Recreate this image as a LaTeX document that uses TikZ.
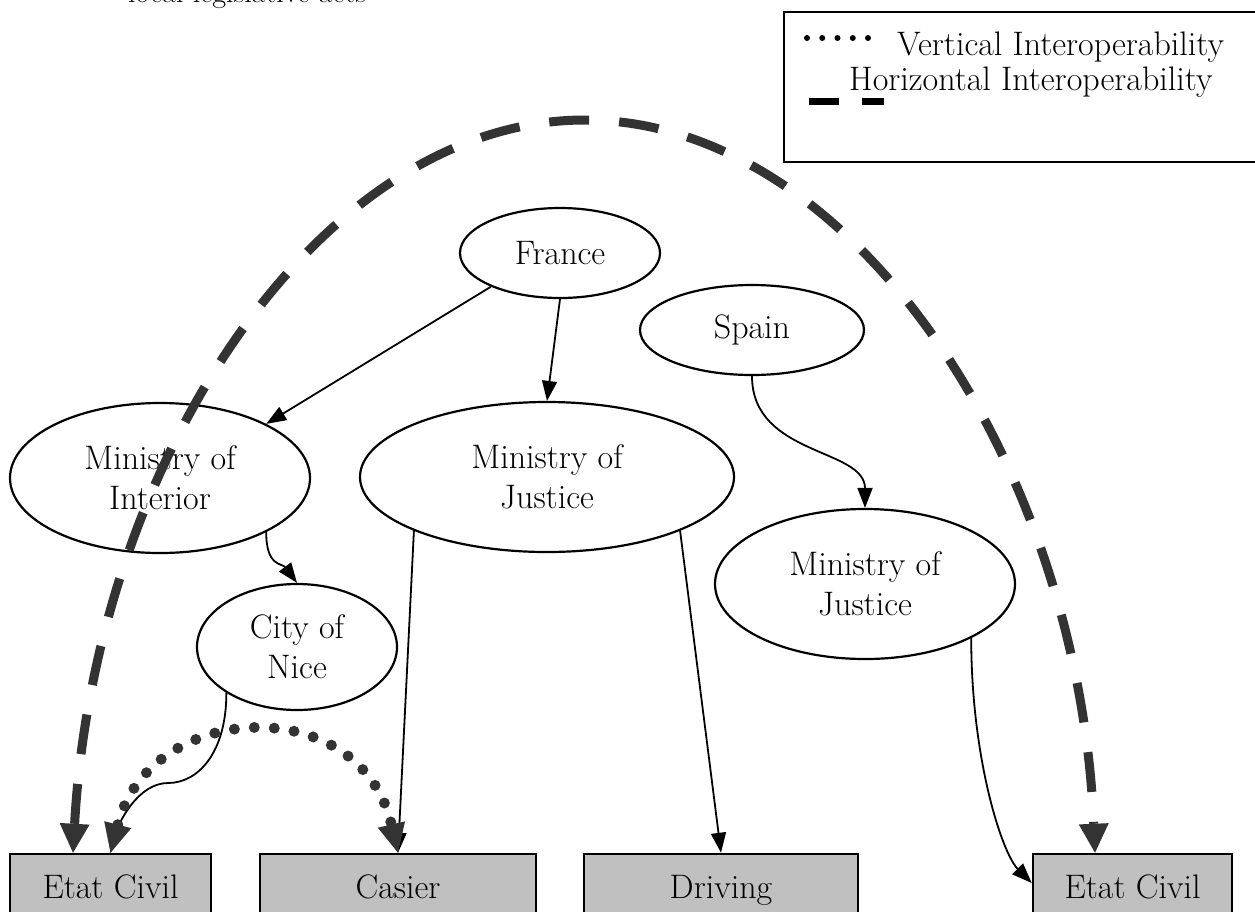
\documentclass[tikz,border=0pt]{standalone}
\usetikzlibrary{shapes.geometric,arrows.meta}
\definecolor{dk}{HTML}{333333}
\definecolor{boxgray}{HTML}{C0C0C0}
\begin{document}
\begin{tikzpicture}[x=1pt,y=-1pt,
  every node/.style={font=\fontsize{34}{40}\selectfont},
  ell/.style={ellipse,draw,line width=2.2pt,inner sep=0pt,align=center},
  boxn/.style={rectangle,draw,line width=2.5pt,fill=boxgray,minimum height=72pt,inner sep=0pt,text height=23pt,text depth=7pt},
  thinarr/.style={line width=1.8pt,-{Triangle[length=20pt,width=15pt]}},
  hordash/.style={draw=dk,line width=9pt,dash pattern=on 40pt off 30pt,{Triangle[length=29pt,width=30pt,line width=0pt]}-{Triangle[length=29pt,width=30pt,line width=0pt]}},
  verdot/.style={draw=dk,line width=11pt,line cap=round,dash pattern=on 0pt off 20pt,{Triangle[length=29pt,width=28pt,line width=0pt]}-{Triangle[length=29pt,width=28pt,line width=0pt]}},
]
\useasboundingbox (0,0) rectangle (1255,911);
\clip (0,0) rectangle (1255,911);

% partially visible caption
\node[anchor=base west,inner sep=0pt,font=\fontsize{30}{36}\selectfont] (caption) at (128,2) {local legislative acts};

% legend
\draw[line width=2.5pt] (784,12) rectangle (1275,162);
\draw[line width=6pt,line cap=round,dash pattern=on 0pt off 15.25pt] (807,38) -- (868,38);
\fill (809,98) rectangle (839,105);
\fill (862,98) rectangle (884,105);
\node[anchor=base west,inner sep=0pt] (legv) at (897,55) {Vertical Interoperability};
\node[anchor=base west,inner sep=0pt] (legh) at (849,90) {Horizontal Interoperability};

% ellipses
\node[ell,minimum width=200pt,minimum height=90pt] (France) at (560,253) {France};
\node[ell,minimum width=224pt,minimum height=90pt] (Spain) at (752,330) {Spain};
\node[ell,minimum width=300pt,minimum height=150pt] (Interior) at (160,478) {Ministry of\\Interior};
\node[ell,minimum width=374pt,minimum height=150pt] (MJ) at (547,477) {Ministry of\\Justice};
\node[ell,minimum width=300pt,minimum height=150pt] (RJ) at (865,584) {Ministry of\\Justice};
\node[ell,minimum width=200pt,minimum height=126pt] (Nice) at (297,647) {City of\\Nice};

% boxes
\node[boxn,minimum width=201pt] (ECL) at (110.5,890) {Etat Civil};
\node[boxn,minimum width=276pt] (Casier) at (398,890) {Casier};
\node[boxn,minimum width=274pt] (Driving) at (721,890) {Driving};
\node[boxn,minimum width=199pt] (ECR) at (1132.5,890) {Etat Civil};

% thin connectors
\draw[thinarr] (France.206) -- (Interior.27);
\draw[thinarr] (France.south) -- (MJ.north);
\draw[thinarr] (Spain.south) .. controls +(0,80) and +(0,-60) .. (RJ.north);
\draw[thinarr] (Interior.333) .. controls +(0,35) and +(-15,-20) .. (Nice.north);
\coordinate (niceBend) at (168,783);
\draw[thinarr] (Nice.213) .. controls +(0,60) and +(30,0) .. (niceBend) .. controls +(-30,0) and +(8,-30) .. (ECL.north);
\draw[thinarr] (MJ.202) -- (Casier.north);
\draw[thinarr] (MJ.338) -- (Driving.north);
\draw[thinarr] (RJ.333) .. controls +(0,120) and +(-30,-30) .. ([yshift=7pt]ECR.west);

% horizontal interoperability (dashed arc)
\coordinate (arcTop) at (585,120);
\draw[hordash] ([xshift=-37.5pt]ECL.north) .. controls (95,460) and (320,120) .. (arcTop)
   .. controls (850,120) and (1078,460) .. ([xshift=-37.5pt]ECR.north);

% vertical interoperability (dotted arc)
\draw[verdot] (ECL.north) .. controls (150,700) and (360,690) .. (Casier.north);
\end{tikzpicture}
\end{document}
